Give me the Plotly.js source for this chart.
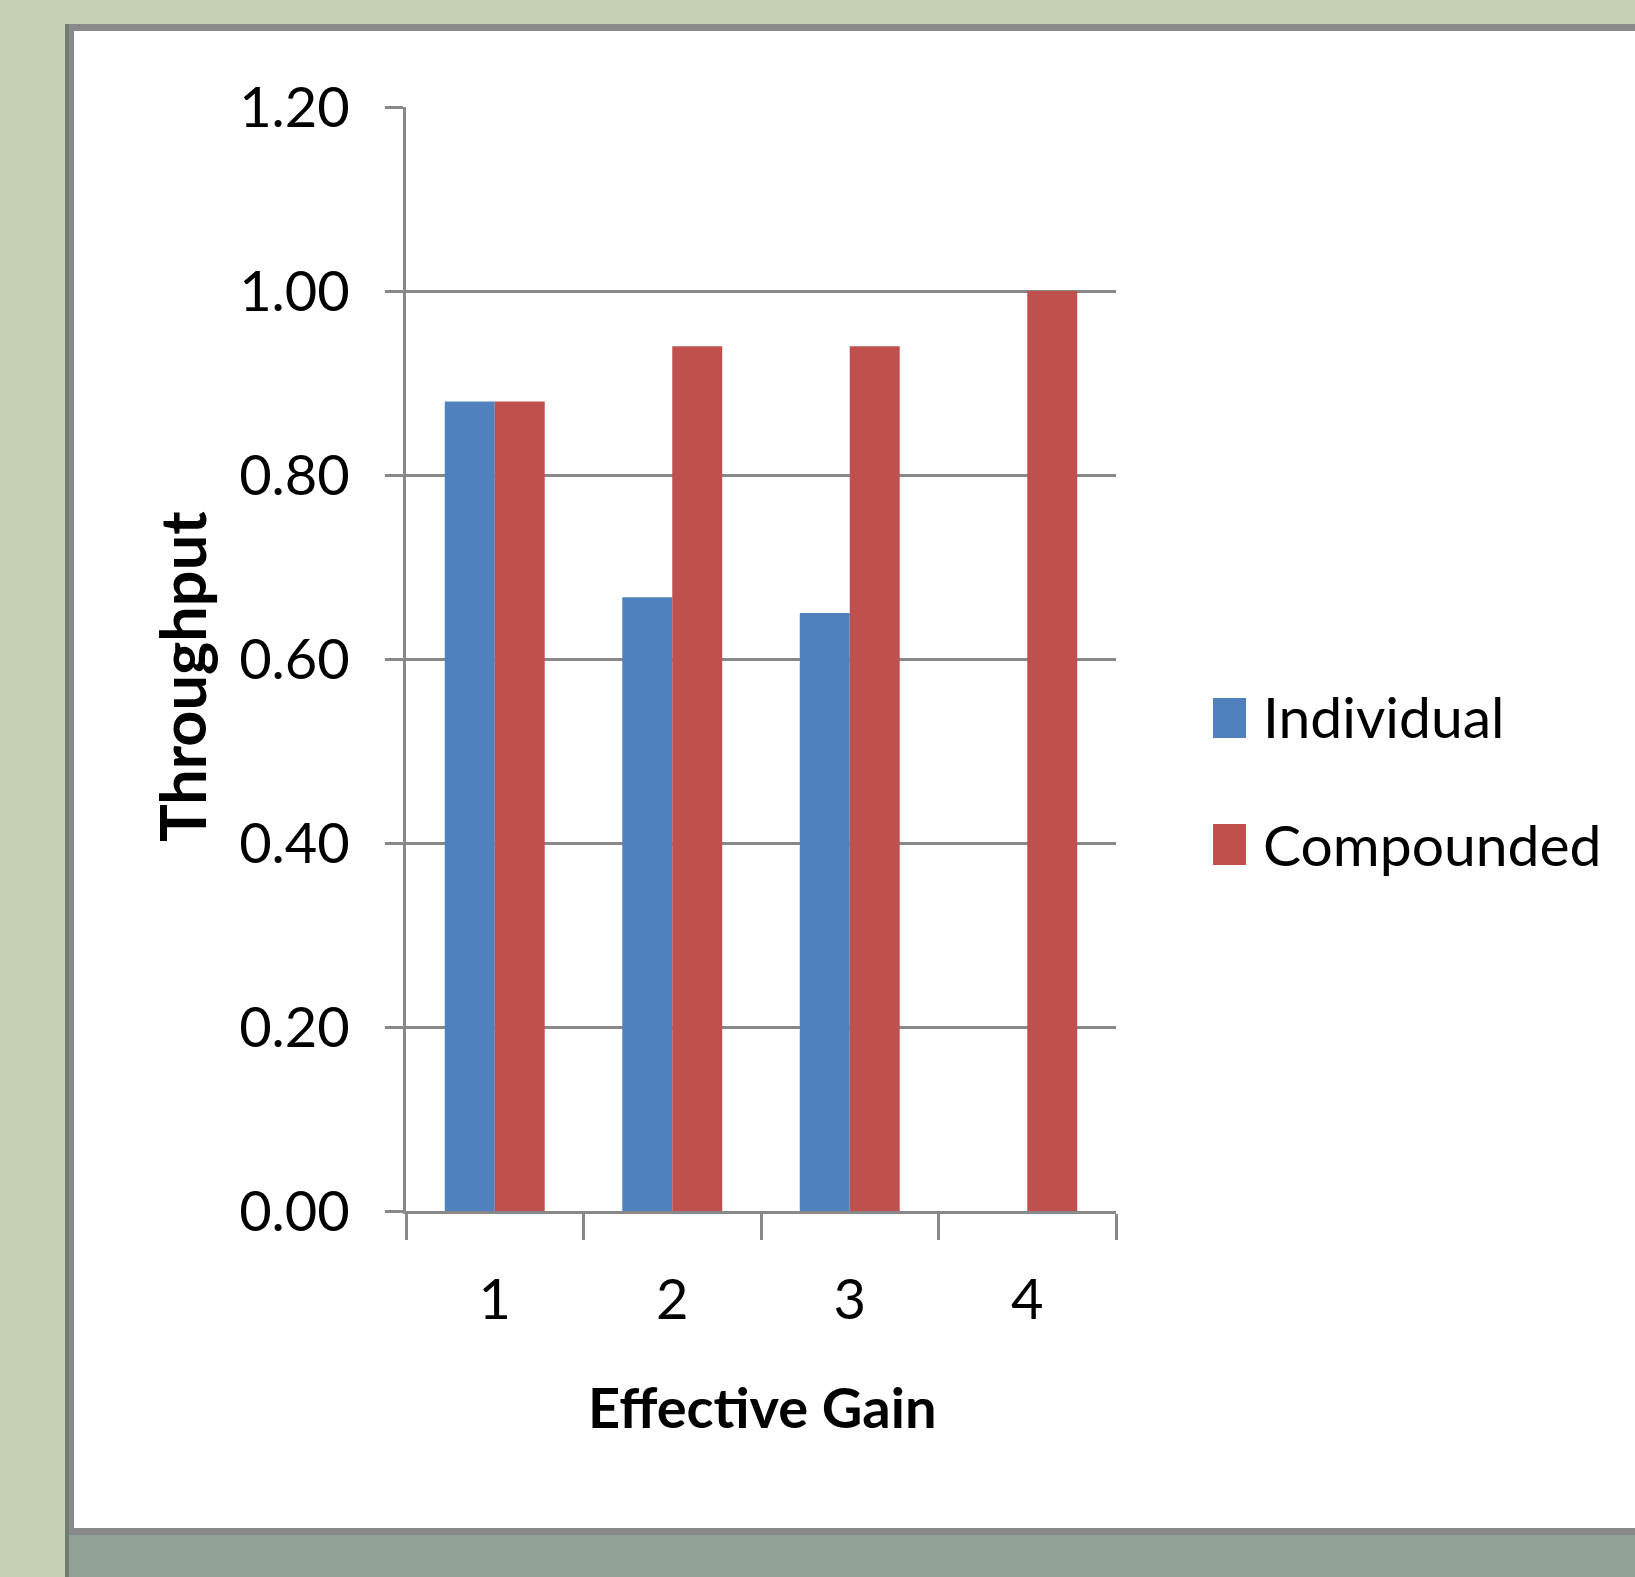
<!DOCTYPE html>
<html>
<head>
<meta charset="utf-8">
<script src="https://cdn.plot.ly/plotly-3.0.1.min.js"></script>
<style>
  html, body { margin: 0; padding: 0; width: 1635px; height: 1577px; overflow: hidden; background: #c6d0b5; position: relative; }
  #band { position: absolute; left: 65px; top: 1535px; width: 1580px; height: 50px; background: #91a195; }
  #edge { position: absolute; left: 65px; top: 24px; width: 4px; height: 1553px; background: #6f7d70; }
  #frame { position: absolute; left: 68px; top: 24px; width: 1580px; height: 1511px; background: #898989; }
  #paper { position: absolute; left: 74px; top: 31px; width: 1570px; height: 1497px; background: #ffffff; }
  #chart { position: absolute; left: 0; top: 0; width: 1635px; height: 1577px; }
</style>
</head>
<body>
<div id="band"></div>
<div id="frame"></div>
<div id="edge"></div>
<div id="paper"></div>
<div id="chart"></div>
<script>
// Throughput by effective gain
const categories = ['1', '2', '3', '4'];
const individual = [0.88, 0.667, 0.65, 0];
const compounded = [0.88, 0.94, 0.94, 1.00];
const seriesNames = ['Individual', 'Compounded'];
const seriesColors = ['#4f81bd', '#c0504d'];
const xTitle = 'Effective Gain';
const yTitle = 'Throughput';

const W = 1635, H = 1577;
const M = { l: 406, r: 519, t: 107, b: 366 };
const plotW = W - M.l - M.r, plotH = H - M.t - M.b;
// pixel position on the page -> paper coordinates of the plot area
const px = x => (x - M.l) / plotW;
const py = y => (H - M.b - y) / plotH;

const FONT = 'Lato, "Open Sans", sans-serif';
const GRID = '#888888';

const traces = [
  { type: 'bar', name: seriesNames[0], x: categories, y: individual,
    marker: { color: seriesColors[0], line: { width: 0 } }, hoverinfo: 'x+y+name' },
  { type: 'bar', name: seriesNames[1], x: categories, y: compounded,
    marker: { color: seriesColors[1], line: { width: 0 } }, hoverinfo: 'x+y+name' }
];

// legend swatches and labels, to the right of the plot
const legendRows = [
  { top: 698, bottom: 738, mid: 716 },
  { top: 824, bottom: 865, mid: 844 }
];
const shapes = legendRows.map((r, i) => ({
  type: 'rect', xref: 'paper', yref: 'paper',
  x0: px(1213), x1: px(1246), y0: py(r.bottom), y1: py(r.top),
  fillcolor: seriesColors[i], line: { width: 0 }
}));
const annotations = legendRows.map((r, i) => ({
  xref: 'paper', yref: 'paper', x: px(1261), y: py(r.mid),
  xanchor: 'left', yanchor: 'middle', showarrow: false,
  text: seriesNames[i], font: { family: FONT, size: 57, color: '#000' }
}));
annotations.push({
  xref: 'paper', yref: 'paper', x: px(181), y: py(676),
  xanchor: 'center', yanchor: 'middle', showarrow: false, textangle: -90,
  text: '<b>' + yTitle + '</b>', font: { family: FONT, size: 63, color: '#000' }
});
annotations.push({
  xref: 'paper', yref: 'paper', x: px(762), y: py(1406),
  xanchor: 'center', yanchor: 'middle', showarrow: false,
  text: '<b>' + xTitle + '</b>', font: { family: FONT, size: 56, color: '#000' }
});

const layout = {
  width: W, height: H,
  margin: M, autosize: false,
  paper_bgcolor: 'rgba(0,0,0,0)', plot_bgcolor: 'rgba(0,0,0,0)',
  showlegend: false,
  barmode: 'group', bargap: 0.437, bargroupgap: 0,
  font: { family: FONT, color: '#000' },
  xaxis: {
    type: 'category', automargin: false,
    showline: true, linecolor: GRID, linewidth: 3,
    ticks: 'outside', tickson: 'boundaries', ticklen: 26, tickwidth: 3, tickcolor: GRID,
    ticklabelstandoff: 38,
    tickfont: { family: FONT, size: 56, color: '#000' },
    showgrid: false, zeroline: false
  },
  yaxis: {
    range: [0, 1.2], dtick: 0.2, tick0: 0, tickformat: '.2f', automargin: false,
    showline: true, linecolor: GRID, linewidth: 3,
    ticks: 'outside', ticklen: 18, tickwidth: 3, tickcolor: GRID,
    ticklabelstandoff: 24,
    tickfont: { family: FONT, size: 56, color: '#000' },
    showgrid: true, gridcolor: GRID, gridwidth: 3, zeroline: false
  },
  shapes: shapes,
  annotations: annotations
};

Plotly.newPlot('chart', traces, layout, { staticPlot: true, displayModeBar: false });
</script>
</body>
</html>
